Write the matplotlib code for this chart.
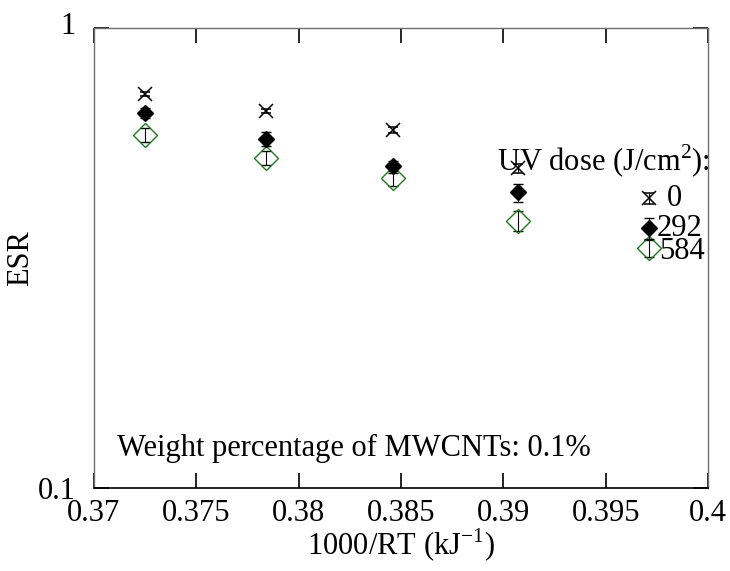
import matplotlib
matplotlib.use("Agg")
import matplotlib.pyplot as plt
import matplotlib.transforms as mtransforms
import numpy as np

plt.rcParams['font.family'] = ['Liberation Serif', 'DejaVu Serif']
plt.rcParams['mathtext.fontset'] = 'custom'
plt.rcParams['mathtext.rm'] = 'Liberation Serif'

# data
x_vals = [0.3725, 0.3784, 0.3846, 0.3907, 0.3971]
esr_0 = [0.718, 0.660, 0.600, 0.495, 0.426]
err_0 = [0.008, 0.008, 0.008, 0.012, 0.011]
esr_292 = [0.654, 0.573, 0.500, 0.439, 0.367]
err_292 = [0.017, 0.020, 0.015, 0.020, 0.020]
esr_584 = [0.585, 0.522, 0.471, 0.381, 0.332]
err_584 = [0.020, 0.019, 0.018, 0.019, 0.014]
dose_labels = ["0", "292", "584"]
x_ticks = [0.37, 0.375, 0.38, 0.385, 0.39, 0.395, 0.4]
x_tick_labels = ["0.37", "0.375", "0.38", "0.385", "0.39", "0.395", "0.4"]

green = '#1f7a1f'
FS = 22

fig = plt.figure(figsize=(7.30, 5.71), dpi=100)
ax = fig.add_axes([94/730, 1-488/571, (708-94)/730, (488-28)/571])

ax.errorbar(x_vals, esr_584, yerr=err_584, fmt='D', mfc='none', mec=green, mew=1.0,
            ms=12, ecolor='black', elinewidth=0.8, capsize=3.8, capthick=1.0, zorder=3)
ax.errorbar(x_vals, esr_292, yerr=err_292, fmt='D', mfc='black', mec='black',
            ms=8.5, ecolor='black', elinewidth=0.8, capsize=3.8, capthick=1.0, zorder=4)
ax.errorbar(x_vals, esr_0, yerr=err_0, fmt='x', color='black', mew=1.1,
            ms=10.5, ecolor='black', elinewidth=0.8, capsize=3.8, capthick=1.0, zorder=5)

ax.set_yscale('log')
ax.set_ylim(0.1, 1)
ax.set_xlim(0.37, 0.4)
ax.set_xticks(x_ticks)
ax.set_xticklabels(x_tick_labels)
ax.set_yticks([0.1, 1])
ax.set_yticklabels(["0.1", "1"])
ax.yaxis.set_minor_locator(matplotlib.ticker.NullLocator())

ax.tick_params(axis='both', which='major', direction='in', length=11, width=1.2,
               top=True, right=True, labelsize=FS, color='black')
ax.tick_params(axis='x', pad=8)
ax.tick_params(axis='y', pad=13)
# nudge the top label "1" up slightly as in the reference
lbl_top = ax.get_yticklabels()[1]
lbl_top.set_transform(lbl_top.get_transform() +
                      mtransforms.ScaledTranslation(0, 5/100, fig.dpi_scale_trans))

for side in ['top', 'left', 'right']:
    ax.spines[side].set_color('#707070')
    ax.spines[side].set_linewidth(1.0)
ax.spines['bottom'].set_color('black')
ax.spines['bottom'].set_linewidth(1.2)

ax.set_xlabel("1000/RT (kJ$^{-1}$)", fontsize=FS, labelpad=-1)
ax.set_ylabel("ESR", fontsize=FS, labelpad=2)

ax.text(0.38969, 0.489, "UV dose (J/cm$^{2}$):", fontsize=FS, va='baseline', ha='left')
ax.text(0.3980, esr_0[-1], dose_labels[0], fontsize=FS, va='center', ha='left')
ax.text(0.3975, esr_292[-1], dose_labels[1], fontsize=FS, va='center', ha='left')
ax.text(0.3976, 0.326, dose_labels[2], fontsize=FS, va='center', ha='left')

ax.text(0.3711, 0.1175, "Weight percentage of MWCNTs: 0.1%", fontsize=FS,
        va='baseline', ha='left')

fig.savefig("out.png", dpi=100)
